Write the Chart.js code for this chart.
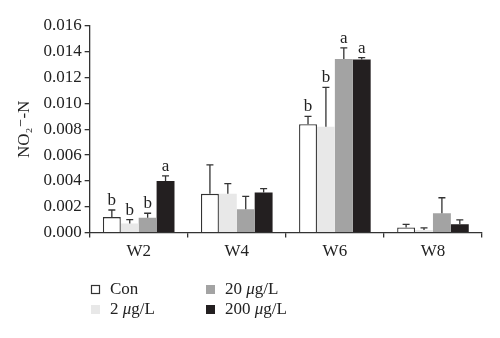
<!DOCTYPE html>
<html>
<head>
<meta charset="utf-8">
<script src="https://cdn.jsdelivr.net/npm/chart.js@4.4.1/dist/chart.umd.min.js"></script>
<style>
  html, body { margin: 0; padding: 0; background: #fff; }
  #wrap { width: 500px; height: 338px; }
</style>
</head>
<body>
<div id="wrap"><canvas id="barras"></canvas></div>
<script>
// Datos del gráfico de nitrito por semana
var semanas = ['W2', 'W4', 'W6', 'W8'];
var grupos = ['Con', '2 \u03BCg/L', '20 \u03BCg/L', '200 \u03BCg/L'];

var con = [0.0012, 0.0030, 0.0084, 0.0004];
var dos = [0.0007, 0.0030, 0.0082, 0.0002];
var veinte = [0.00115, 0.0018, 0.01345, 0.0015];
var doscientos = [0.0040, 0.0031, 0.0134, 0.00065];

// Extremo superior de las barras de error
var errCon = [0.00175, 0.00525, 0.0090, 0.00064];
var errDos = [0.0010, 0.0038, 0.01125, 0.00036];
var errVeinte = [0.0015, 0.0028, 0.0143, 0.0027];
var errDoscientos = [0.0044, 0.0034, 0.01355, 0.00098];

// Letras de significancia
var letrasCon = ['b', '', 'b', ''];
var letrasDos = ['b', '', 'b', ''];
var letrasVeinte = ['b', '', 'a', ''];
var letrasDoscientos = ['a', '', 'a', ''];

var yTicks = [0, 0.002, 0.004, 0.006, 0.008, 0.010, 0.012, 0.014, 0.016];

var serif = '"Liberation Serif", "DejaVu Serif", serif';

// Plugin para barras de error y letras
var errorBars = {
    id: 'errorBars',
    afterDatasetsDraw: function (chart) {
        var ctx = chart.ctx;
        var y = chart.scales.y;
        chart.data.datasets.forEach(function (ds, i) {
            var meta = chart.getDatasetMeta(i);
            meta.data.forEach(function (bar, j) {
                var top = y.getPixelForValue(ds.err[j]);
                ctx.save();
                ctx.strokeStyle = '#333';
                ctx.lineWidth = 1.3;
                ctx.beginPath();
                ctx.moveTo(bar.x, bar.y);
                ctx.lineTo(bar.x, top);
                ctx.moveTo(bar.x - 3.5, top);
                ctx.lineTo(bar.x + 3.5, top);
                ctx.stroke();
                if (ds.letras[j]) {
                    ctx.fillStyle = '#222';
                    ctx.font = '17px ' + serif;
                    ctx.textAlign = 'center';
                    ctx.textBaseline = 'bottom';
                    ctx.fillText(ds.letras[j], bar.x, top - 1);
                }
                ctx.restore();
            });
        });
    }
};

// Leyenda dibujada abajo en dos columnas
var leyenda = {
    id: 'leyenda',
    afterDraw: function (chart) {
        var ctx = chart.ctx;
        var pos = [[91, 290], [91, 310], [206, 290], [206, 310]];
        chart.data.datasets.forEach(function (ds, i) {
            var px = pos[i][0], py = pos[i][1];
            ctx.save();
            ctx.fillStyle = ds.backgroundColor;
            ctx.fillRect(px, py - 5, 9, 9);
            if (ds.borderWidth) {
                ctx.strokeStyle = '#333';
                ctx.lineWidth = 1.2;
                ctx.strokeRect(px + 0.5, py - 4.5, 8, 8);
            }
            ctx.fillStyle = '#222';
            ctx.textBaseline = 'middle';
            var parts = ds.label.split('\u03BC');
            var tx = px + 19;
            ctx.font = '17px ' + serif;
            ctx.fillText(parts[0], tx, py);
            if (parts.length > 1) {
                tx += ctx.measureText(parts[0]).width;
                ctx.font = 'italic 17px ' + serif;
                ctx.fillText('\u03BC', tx, py);
                tx += ctx.measureText('\u03BC').width;
                ctx.font = '17px ' + serif;
                ctx.fillText(parts[1], tx, py);
            }
            ctx.restore();
        });
    }
};

var ctx = document.getElementById('barras').getContext('2d');
var chart = new Chart(ctx, {
    type: 'bar',
    data: {
        labels: semanas,
        datasets: [
            { label: grupos[0], data: con, err: errCon, letras: letrasCon,
              backgroundColor: '#ffffff', borderColor: '#333333', borderWidth: 1.3 },
            { label: grupos[1], data: dos, err: errDos, letras: letrasDos,
              backgroundColor: '#e8e8e8', borderWidth: 0 },
            { label: grupos[2], data: veinte, err: errVeinte, letras: letrasVeinte,
              backgroundColor: '#a3a3a3', borderWidth: 0 },
            { label: grupos[3], data: doscientos, err: errDoscientos, letras: letrasDoscientos,
              backgroundColor: '#231f20', borderWidth: 0 }
        ]
    },
    options: {
        responsive: true,
        maintainAspectRatio: false,
        animation: false,
        layout: { padding: { top: 26, right: 18, bottom: 72, left: 10 } },
        datasets: { bar: { categoryPercentage: 0.73, barPercentage: 1 } },
        plugins: {
            legend: { display: false },
            tooltip: { enabled: false }
        },
        scales: {
            x: {
                grid: { offset: true, drawOnChartArea: false, tickLength: 5, color: '#333', lineWidth: 1.3 },
                border: { color: '#333', width: 1.3 },
                ticks: { color: '#222', font: { family: serif, size: 17 }, padding: 4 }
            },
            y: {
                min: 0,
                max: 0.016,
                afterBuildTicks: function (axis) {
                    axis.ticks = yTicks.map(function (v) { return { value: v }; });
                },
                grid: { drawOnChartArea: false, tickLength: 5, color: '#333', lineWidth: 1.3 },
                border: { color: '#333', width: 1.3 },
                ticks: {
                    color: '#222',
                    font: { family: serif, size: 17 },
                    padding: 3,
                    callback: function (v) { return v.toFixed(3); }
                },
                title: {
                    display: true,
                    text: 'NO\u2082\u207B-N',
                    color: '#222',
                    font: { family: serif, size: 17 },
                    padding: { bottom: 6 }
                }
            }
        }
    },
    plugins: [errorBars, leyenda]
});
</script>
</body>
</html>
